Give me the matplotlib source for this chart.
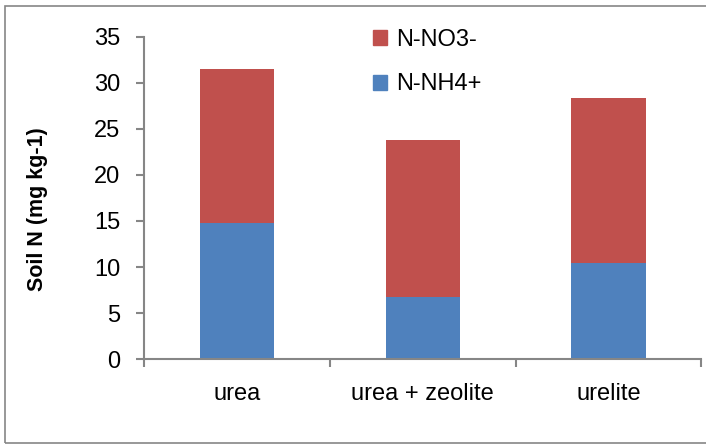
import matplotlib
matplotlib.use("Agg")
import matplotlib.pyplot as plt
from matplotlib.patches import Rectangle, Patch

# Soil mineral N by fertiliser treatment (mg kg-1)
treatments = ["urea", "urea + zeolite", "urelite"]
nh4 = [14.8, 6.7, 10.4]
no3 = [16.7, 17.1, 18.0]

grey = "#868686"
blue = "#4F81BD"
red = "#C0504D"
plt.rcParams["font.family"] = ["Liberation Sans", "DejaVu Sans"]

fig = plt.figure(figsize=[7.06, 4.45], dpi=100)
ax = fig.add_axes([0.204, 0.193, 0.7896, 0.7245])

x = list(range(len(treatments)))
ax.bar(x, nh4, width=0.4, color=blue, label="N-NH4+")
ax.bar(x, no3, width=0.4, bottom=nh4, color=red, label="N-NO3-")

ax.set_ylim(0, 35)
ax.set_yticks(range(0, 36, 5))
ax.set_xlim(-0.5, len(treatments) - 0.5)
# tick marks between categories, labels at the centres
ax.set_xticks([i - 0.5 for i in range(len(treatments) + 1)])
ax.set_xticklabels([])
ax.set_xticks(x, minor=True)
ax.set_xticklabels(treatments, minor=True, fontsize=17)
ax.tick_params(axis="x", which="minor", length=0, pad=17)
ax.tick_params(axis="x", which="major", length=6, width=1.5, color=grey, direction="out")
ax.tick_params(axis="y", length=6, width=1.5, color=grey, labelsize=17, pad=11)

for side in ["top", "right"]:
    ax.spines[side].set_visible(False)
for side in ["left", "bottom"]:
    ax.spines[side].set_color(grey)
    ax.spines[side].set_linewidth(1.5)

ax.set_ylabel("Soil N (mg kg-1)", fontsize=15.5, fontweight="bold")
ax.yaxis.set_label_coords(-0.172, 0.465)

handles = [Patch(color=red, label="N-NO3-"), Patch(color=blue, label="N-NH4+")]
ax.legend(handles=handles, loc="upper left", bbox_to_anchor=(0.372, 1.09),
          frameon=False, fontsize=17, handlelength=0.6, handleheight=0.6,
          handletextpad=0.4, labelspacing=0.95)

# outer chart border
fig.patches.append(Rectangle((0.0064, 0.0045), 1.2, 0.982, transform=fig.transFigure,
                             fill=False, edgecolor=grey, linewidth=1.2))

plt.savefig("out.png", dpi=100)
